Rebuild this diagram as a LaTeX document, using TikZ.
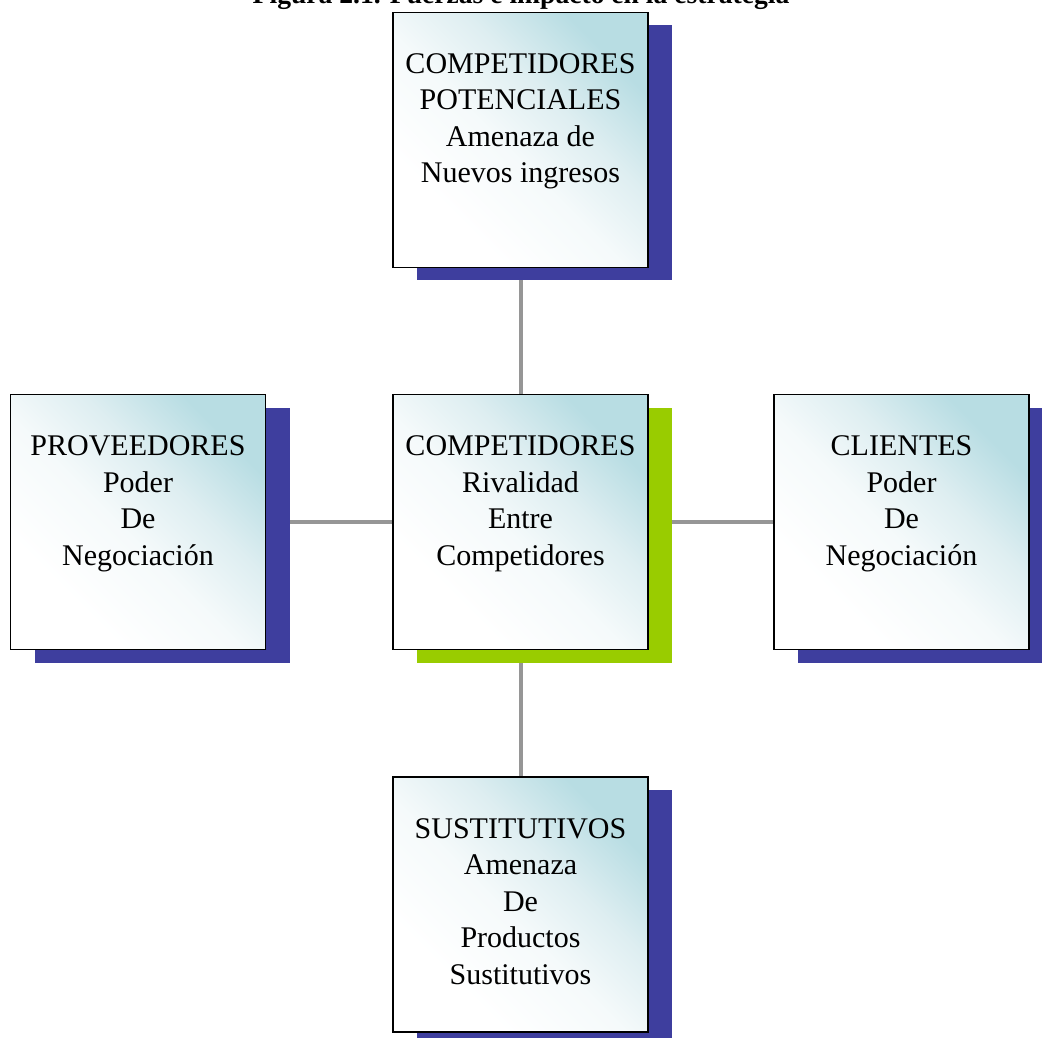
\documentclass[tikz,border=0pt]{standalone}
\usepackage{fontspec}
\setmainfont{Liberation Serif}
\usetikzlibrary{shadows}
\definecolor{shblue}{RGB}{62,62,158}
\definecolor{shgreen}{RGB}{153,204,0}
\definecolor{tealtop}{RGB}{184,221,227}
\definecolor{tealmid}{RGB}{222,238,241}
\definecolor{linegray}{RGB}{150,150,150}
\pgfdeclareverticalshading{forcegrad}{100bp}{color(0bp)=(white); color(30bp)=(white); color(47bp)=(white!70!tealmid); color(60bp)=(tealmid); color(74bp)=(tealtop); color(100bp)=(tealtop)}
\pgfdeclarelayer{bg}
\pgfsetlayers{bg,main}
\newcommand{\boxtext}[1]{\parbox[c][127.5pt][t]{127.5pt}{\fontsize{15pt}{18.25pt}\selectfont\centering\rule{0pt}{30.5pt}#1\par}}
\tikzset{
  forcebox/.style={draw=black, line width=0.9pt, inner sep=0pt, outer sep=0pt,
    minimum width=127.5pt, minimum height=127.5pt,
    shading=forcegrad, shading angle=-45,
    general shadow={fill=#1, shadow xshift=12pt, shadow yshift=-6.5pt}},
  forcebox/.default=shblue,
  conn/.style={draw=linegray, line width=2pt}
}
\begin{document}
\begin{tikzpicture}[x=0.5pt,y=-0.5pt]
\useasboundingbox (0,0) rectangle (1042,1037);
\clip (0,0) rectangle (1042,1037);
\node[anchor=base, font=\fontsize{13.8pt}{16pt}\selectfont\bfseries] (title) at (521,4) {Figura 2.1. Fuerzas e impacto en la estrategia};
\node[forcebox] (top) at (520.5,140) {\boxtext{COMPETIDORES\\POTENCIALES\\Amenaza de\\Nuevos ingresos}};
\node[forcebox] (left) at (138,522) {\boxtext{PROVEEDORES\\Poder\\De\\Negociación}};
\node[forcebox=shgreen] (center) at (520.5,522) {\boxtext{COMPETIDORES\\Rivalidad\\Entre\\Competidores}};
\node[forcebox] (right) at (901.5,522) {\boxtext{CLIENTES\\Poder\\De\\Negociación}};
\node[forcebox] (bottom) at (520.5,904.5) {\boxtext{SUSTITUTIVOS\\Amenaza\\De\\Productos\\Sustitutivos}};
\begin{pgfonlayer}{bg}
\draw[conn] (top.south) -- (center.north);
\draw[conn] (left.east) -- (center.west);
\draw[conn] (center.east) -- (right.west);
\draw[conn] (center.south) -- (bottom.north);
\end{pgfonlayer}
\end{tikzpicture}
\end{document}
